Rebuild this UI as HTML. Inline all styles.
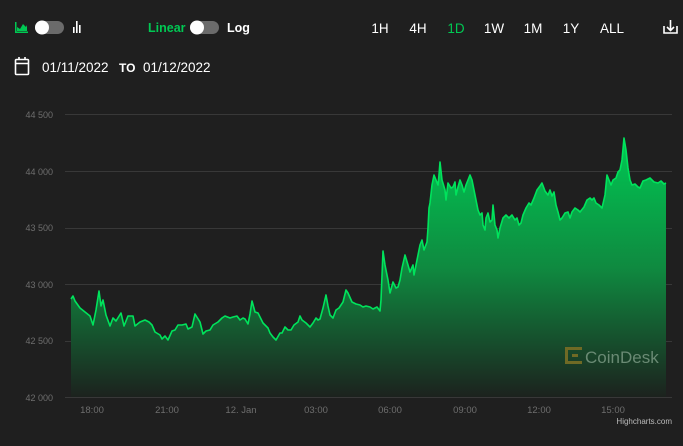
<!DOCTYPE html>
<html><head><meta charset="utf-8"><style>
body{margin:0;background:#1f1f1f;width:683px;height:446px;overflow:hidden;font-family:"Liberation Sans",sans-serif;}
svg{position:absolute;left:0;top:0}
</style></head><body>
<svg width="683" height="446" xmlns="http://www.w3.org/2000/svg">
<defs>
<linearGradient id="g" x1="0" y1="138" x2="0" y2="397" gradientUnits="userSpaceOnUse">
<stop offset="0" stop-color="#00c853"/>
<stop offset="0.5" stop-color="#0f8a40" />
<stop offset="1" stop-color="#1c221e"/>
</linearGradient>
</defs>
<g fill="#00c853"><rect x="15" y="22" width="1.5" height="11"/><rect x="15" y="31.5" width="13" height="1.5"/><path d="M17 31 L17 27 L20 29 L23 24 L26 27 L27 25 L27 31Z"/></g>
<rect x="35" y="21" width="29" height="13" rx="6.5" fill="#6b6b6b"/><circle cx="42" cy="27.5" r="7" fill="#fff"/>
<g fill="#fff"><rect x="73" y="27" width="1.6" height="6"/><rect x="76" y="21" width="1.6" height="12"/><rect x="79" y="25" width="1.6" height="8"/></g>
<text x="148" y="32" font-size="12.5" font-weight="bold" fill="#00c853">Linear</text>
<rect x="190" y="21" width="29" height="13" rx="6.5" fill="#6b6b6b"/><circle cx="197" cy="27.5" r="7" fill="#fff"/>
<text x="227" y="32" font-size="12.5" font-weight="bold" fill="#fff">Log</text>
<g font-size="13.5" fill="#fff" text-anchor="middle">
<text x="380" y="33">1H</text><text x="418" y="33">4H</text><text x="456" y="33" fill="#00c853">1D</text><text x="494" y="33">1W</text><text x="533" y="33">1M</text><text x="571" y="33">1Y</text><text x="612" y="33">ALL</text></g>
<g stroke="#fff" stroke-width="1.6" fill="none"><path d="M664 26 V33 H677 V26"/><path d="M670.5 20 V30 M667 27 L670.5 30.5 L674 27"/></g>
<g stroke="#fff" stroke-width="1.6" fill="none"><rect x="15.5" y="59.5" width="13" height="15" rx="1"/><path d="M15.5 63.5 H28.5 M19 57 V60 M25 57 V60"/></g>
<text x="42" y="72" font-size="13.5" fill="#fff">01/11/2022</text>
<text x="119" y="72" font-size="12" font-weight="bold" fill="#fff">TO</text>
<text x="143" y="72" font-size="13.5" fill="#fff">01/12/2022</text>
<g stroke="#383838" stroke-width="1"><path d="M65 114.5H672M65 171.5H672M65 228.5H672M65 284.5H672M65 341.5H672M65 397.5H672"/></g>
<g font-size="9" fill="#6e6e6e" text-anchor="end">
<text x="53" y="118">44 500</text><text x="53" y="175">44 000</text><text x="53" y="231">43 500</text><text x="53" y="288">43 000</text><text x="53" y="344">42 500</text><text x="53" y="401">42 000</text></g>
<g font-size="9.5" fill="#6e6e6e" text-anchor="middle">
<text x="92" y="413">18:00</text><text x="167" y="413">21:00</text><text x="241" y="413">12. Jan</text><text x="316" y="413">03:00</text><text x="390" y="413">06:00</text><text x="465" y="413">09:00</text><text x="539" y="413">12:00</text><text x="613" y="413">15:00</text></g>
<text x="672" y="424" font-size="8" fill="#bbb" text-anchor="end">Highcharts.com</text>
<path fill="url(#g)" d="M71 397 L71,299 73,296 75,301 80,308 85,312 90,316 93,325 96,310 99,291 101,306 103,300 106,315 110,326 113,318 116,321 121,313 124,326 128,316 133,316 135,326 140,322 145,320 149,322 152,325 155,332 160,335 162,339 165,336 168,340 172,331 175,330 178,325 182,325 186,324 188,329 192,327 195,314 200,322 203,334 206,331 210,330 213,325 218,322 222,318 225,316 230,318 233,317 237,316 240,320 243,318 245,319 248,324 250,314 252,301 255,312 258,313 263,323 268,328 270,333 273,337 276,340 280,333 282,333 285,327 288,330 291,330 294,325 298,322 300,316 302,320 306,323 310,327 313,323 316,318 318,320 320,319 323,308 326,295 328,306 330,315 333,318 336,310 339,308 343,302 346,290 348,293 352,302 356,304 360,305 363,307 366,306 370,307 373,309 377,307 380,311 381,300 383,251 385,265 388,280 390,293 393,282 396,288 398,287 400,280 402,268 405,255 408,265 410,272 413,265 414,275 416,265 418,255 420,245 422,240 424,250 427,242 428,228 429,208 430,203 432,185 434,175 436,180 438,185 439,175 440,162 442,180 445,190 446,200 448,183 451,188 453,187 455,182 456,195 458,187 460,180 462,185 464,192 466,185 468,180 470,175 472,180 474,190 476,200 478,210 480,215 482,213 483,225 485,230 486,218 488,213 490,222 492,220 493,205 495,225 497,230 498,238 500,228 503,218 506,215 509,218 512,215 515,220 517,218 519,225 521,223 523,215 526,208 529,203 531,205 534,198 537,190 540,186 542,183 545,191 548,195 550,190 552,196 554,192 556,205 558,212 560,220 562,218 565,213 568,212 570,218 572,212 575,208 578,210 580,212 584,207 587,200 590,198 592,200 594,198 596,203 599,205 602,208 605,195 607,175 609,180 611,185 613,180 616,178 618,172 620,170 622,160 624,138 626,150 628,168 630,180 632,185 635,184 638,187 640,188 643,181 646,180 650,178 654,182 658,183 661,181 664,184 666,183 L666 397Z"/>
<polyline fill="none" stroke="#00e35c" stroke-width="1.6" stroke-linejoin="round" points="71,299 73,296 75,301 80,308 85,312 90,316 93,325 96,310 99,291 101,306 103,300 106,315 110,326 113,318 116,321 121,313 124,326 128,316 133,316 135,326 140,322 145,320 149,322 152,325 155,332 160,335 162,339 165,336 168,340 172,331 175,330 178,325 182,325 186,324 188,329 192,327 195,314 200,322 203,334 206,331 210,330 213,325 218,322 222,318 225,316 230,318 233,317 237,316 240,320 243,318 245,319 248,324 250,314 252,301 255,312 258,313 263,323 268,328 270,333 273,337 276,340 280,333 282,333 285,327 288,330 291,330 294,325 298,322 300,316 302,320 306,323 310,327 313,323 316,318 318,320 320,319 323,308 326,295 328,306 330,315 333,318 336,310 339,308 343,302 346,290 348,293 352,302 356,304 360,305 363,307 366,306 370,307 373,309 377,307 380,311 381,300 383,251 385,265 388,280 390,293 393,282 396,288 398,287 400,280 402,268 405,255 408,265 410,272 413,265 414,275 416,265 418,255 420,245 422,240 424,250 427,242 428,228 429,208 430,203 432,185 434,175 436,180 438,185 439,175 440,162 442,180 445,190 446,200 448,183 451,188 453,187 455,182 456,195 458,187 460,180 462,185 464,192 466,185 468,180 470,175 472,180 474,190 476,200 478,210 480,215 482,213 483,225 485,230 486,218 488,213 490,222 492,220 493,205 495,225 497,230 498,238 500,228 503,218 506,215 509,218 512,215 515,220 517,218 519,225 521,223 523,215 526,208 529,203 531,205 534,198 537,190 540,186 542,183 545,191 548,195 550,190 552,196 554,192 556,205 558,212 560,220 562,218 565,213 568,212 570,218 572,212 575,208 578,210 580,212 584,207 587,200 590,198 592,200 594,198 596,203 599,205 602,208 605,195 607,175 609,180 611,185 613,180 616,178 618,172 620,170 622,160 624,138 626,150 628,168 630,180 632,185 635,184 638,187 640,188 643,181 646,180 650,178 654,182 658,183 661,181 664,184 666,183"/>
<g fill="#6f6a25"><rect x="565" y="347" width="3" height="17"/><rect x="565" y="347" width="17" height="3"/><rect x="565" y="361" width="17" height="3"/><rect x="572" y="354" width="6" height="3"/></g>
<text x="585" y="363" font-size="17" fill="#6a8a74">CoinDesk</text>
</svg>
</body></html>
